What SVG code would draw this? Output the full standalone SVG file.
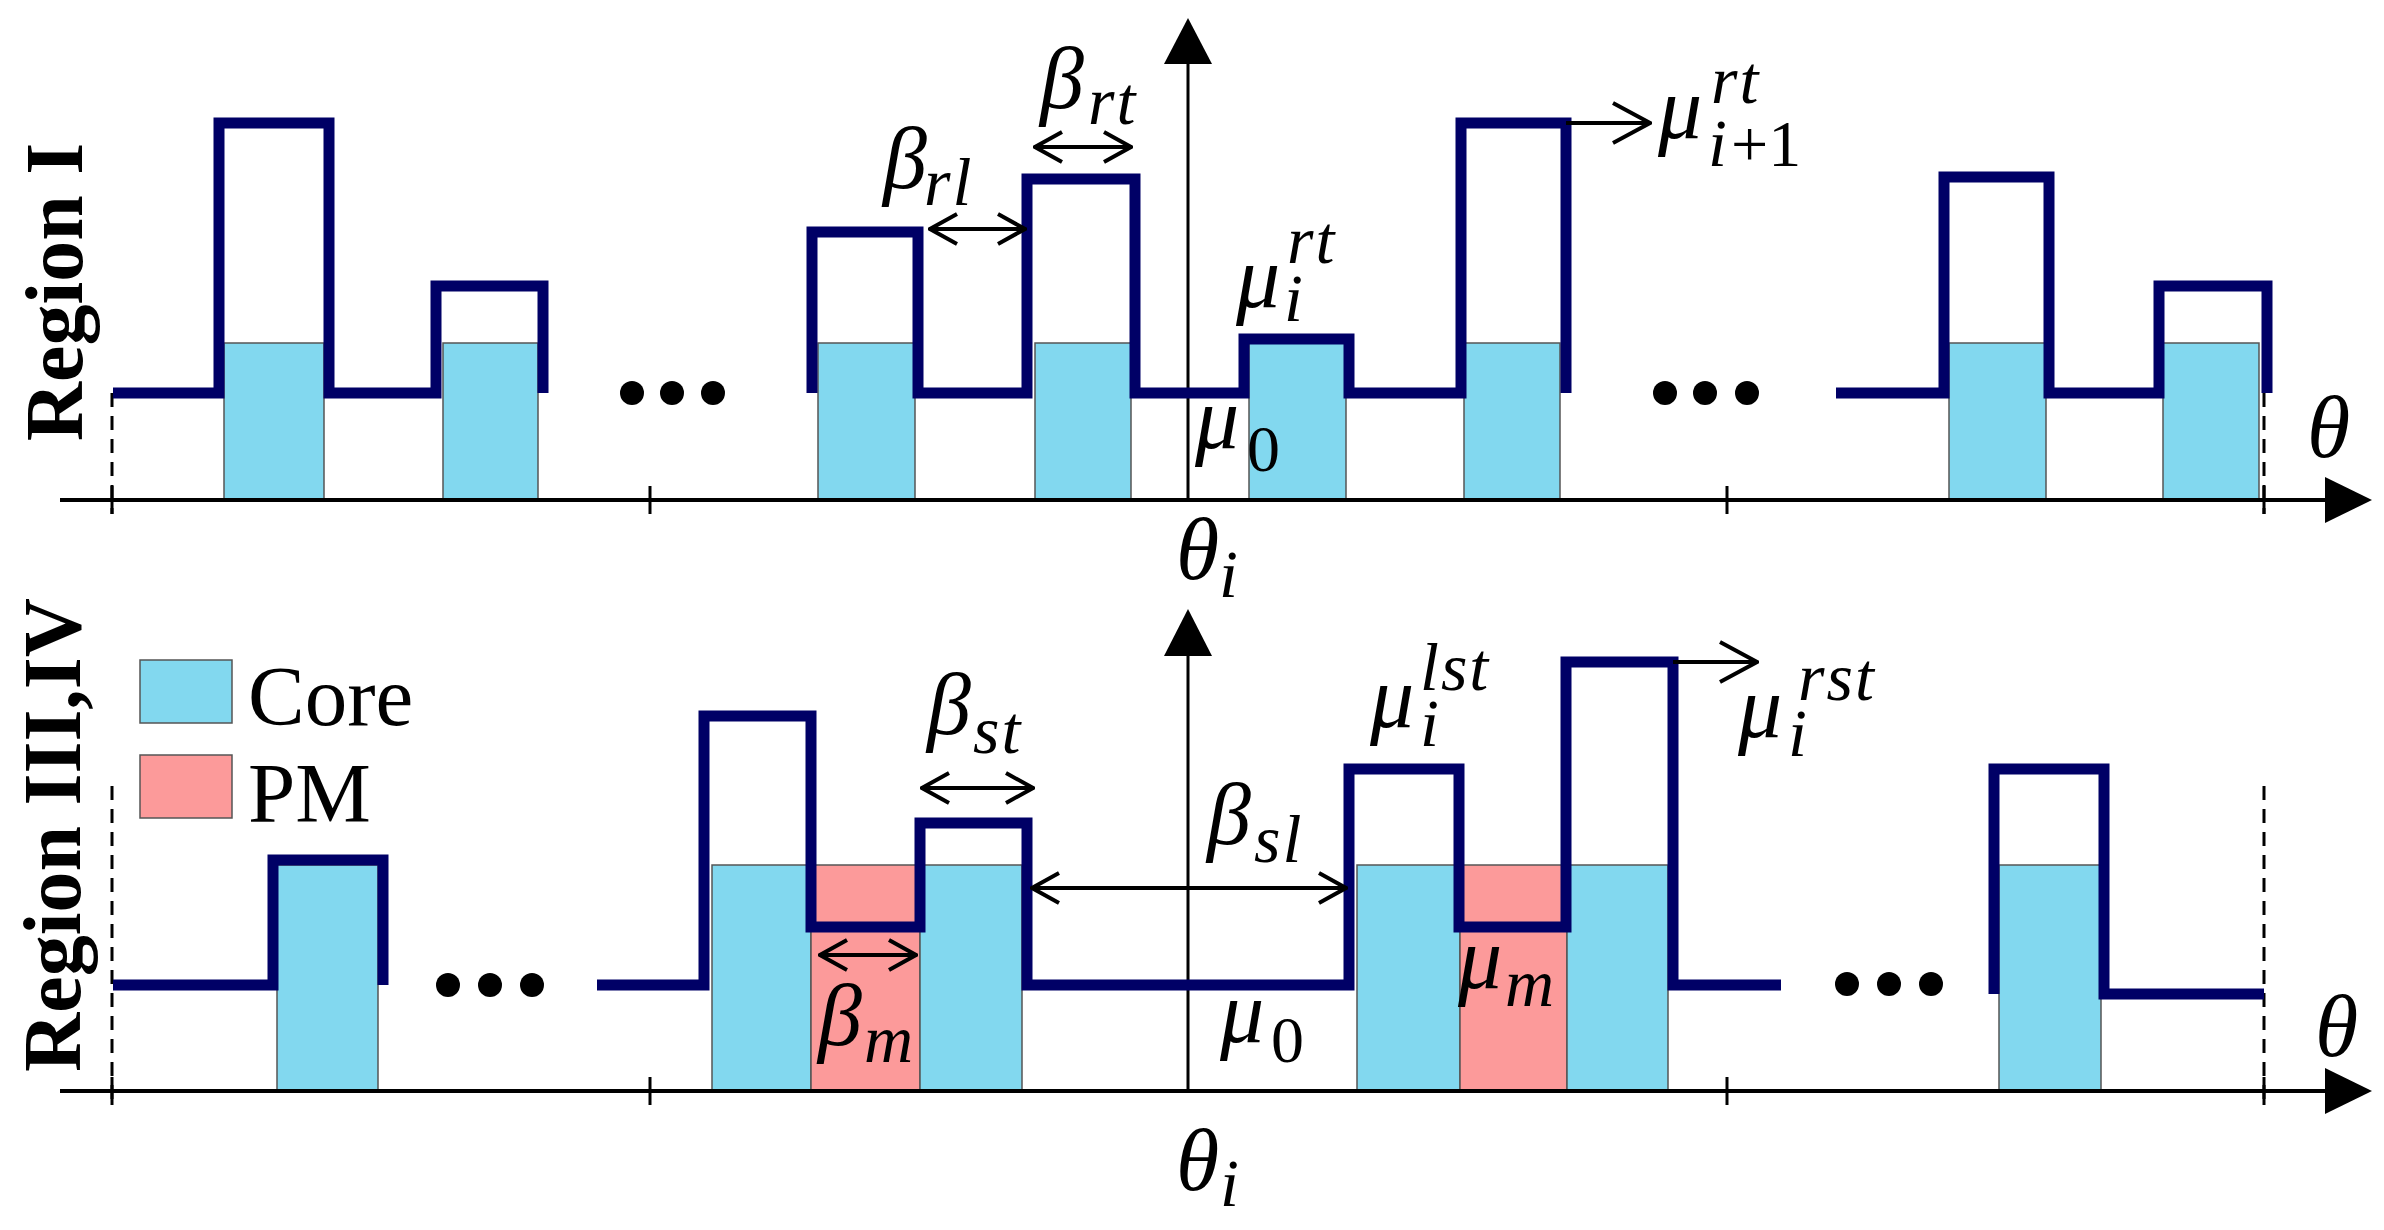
<svg xmlns="http://www.w3.org/2000/svg" width="2384" height="1230" viewBox="0 0 2384 1230">
<defs>
<style>
.wave{fill:none;stroke:#000066;stroke-width:11;stroke-linejoin:miter;stroke-linecap:butt}
.core{fill:#82D8EF;stroke:#555;stroke-width:1.5}
.pm{fill:#FC9A9A;stroke:#555;stroke-width:1.5}
.axis{fill:none;stroke:#000;stroke-width:4}
.vaxis{fill:none;stroke:#000;stroke-width:3}
.tick{stroke:#000;stroke-width:3}
.dash{stroke:#000;stroke-width:3;stroke-dasharray:14 9}
.dim{fill:none;stroke:#000;stroke-width:4}
.lbl{font-family:"Liberation Serif","Times New Roman",serif;font-style:italic;font-size:88px;fill:#000}
.s{font-size:68px;letter-spacing:2px}
.su{font-size:66px;font-style:normal}
.reg{font-family:"Liberation Serif","Times New Roman",serif;font-weight:bold;font-size:82px;fill:#000}
.leg{font-family:"Liberation Serif","Times New Roman",serif;font-size:85px;fill:#000}
.dot{fill:#000}
</style>
<marker id="chev" viewBox="0 0 32 34" refX="30" refY="17" markerWidth="32" markerHeight="34" markerUnits="userSpaceOnUse" orient="auto-start-reverse">
<path d="M3,2 L30,17 L3,32" fill="none" stroke="#000" stroke-width="4"/>
</marker>
<marker id="chevL" viewBox="0 0 42 44" refX="40" refY="22" markerWidth="42" markerHeight="44" markerUnits="userSpaceOnUse" orient="auto">
<path d="M3,2 L40,22 L3,42" fill="none" stroke="#000" stroke-width="4"/>
</marker>
</defs>
<rect width="2384" height="1230" fill="#fff"/>

<!-- ===== Top panel: Region I ===== -->
<g id="top-cores">
<rect class="core" x="224" y="343" width="100" height="157"/>
<rect class="core" x="443" y="343" width="95" height="157"/>
<rect class="core" x="818" y="343" width="97" height="157"/>
<rect class="core" x="1035" y="343" width="96" height="157"/>
<rect class="core" x="1249" y="343" width="97" height="157"/>
<rect class="core" x="1464" y="343" width="96" height="157"/>
<rect class="core" x="1949" y="343" width="97" height="157"/>
<rect class="core" x="2163" y="343" width="96" height="157"/>
</g>

<g id="top-axes">
<line class="dash" x1="112" y1="393" x2="112" y2="514"/>
<line class="dash" x1="2264" y1="393" x2="2264" y2="514"/>
<line class="axis" x1="60" y1="500" x2="2330" y2="500"/>
<polygon points="2372,500 2325,477 2325,523" fill="#000"/>
<line class="tick" x1="112" y1="486" x2="112" y2="514"/>
<line class="tick" x1="650" y1="486" x2="650" y2="514"/>
<line class="tick" x1="1727" y1="486" x2="1727" y2="514"/>
<line class="tick" x1="2264" y1="486" x2="2264" y2="514"/>
<line class="vaxis" x1="1188" y1="500" x2="1188" y2="60"/>
<polygon points="1188,18 1164,64 1212,64" fill="#000"/>
</g>

<g id="top-wave">
<path class="wave" d="M113,393 H219 V123 H329 V393 H436 V286 H543 V393"/>
<path class="wave" d="M812,393 V232 H918 V393 H1027 V179 H1135 V393 H1244 V339 H1349 V393 H1461 V123 H1566 V393"/>
<path class="wave" d="M1836,393 H1944 V177 H2049 V393 H2159 V286 H2267 V393"/>
</g>

<g id="top-dots">
<circle class="dot" cx="632" cy="393" r="12"/><circle class="dot" cx="672" cy="393" r="12"/><circle class="dot" cx="713" cy="393" r="12"/>
<circle class="dot" cx="1665" cy="393" r="12"/><circle class="dot" cx="1705" cy="393" r="12"/><circle class="dot" cx="1747" cy="393" r="12"/>
</g>

<g id="top-connectors">
<line class="dim" x1="930" y1="229" x2="1025" y2="229" marker-start="url(#chev)" marker-end="url(#chev)"/>
<line class="dim" x1="1035" y1="147" x2="1131" y2="147" marker-start="url(#chev)" marker-end="url(#chev)"/>
<line class="dim" x1="1566" y1="123" x2="1650" y2="123" marker-end="url(#chevL)"/>
</g>

<g id="top-labels">
<text class="reg" transform="translate(82,292) rotate(-90)" text-anchor="middle">Region I</text>
<text class="lbl"><tspan x="883" y="188">β</tspan><tspan class="s" x="924" y="205">rl</tspan></text>
<text class="lbl"><tspan x="1040" y="108">β</tspan><tspan class="s" x="1088" y="124">rt</tspan></text>
<text class="lbl"><tspan x="1236" y="307">μ</tspan><tspan class="s" x="1284" y="321">i</tspan><tspan class="s" x="1287" y="263">rt</tspan></text>
<text class="lbl"><tspan x="1658" y="138">μ</tspan><tspan class="s" x="1708" y="166">i</tspan><tspan class="su" dx="2">+1</tspan><tspan class="s" x="1711" y="103">rt</tspan></text>
<text class="lbl"><tspan x="1195" y="448">μ</tspan><tspan class="su" x="1247" y="471">0</tspan></text>
<text class="lbl" x="2307" y="457">θ</text>
<text class="lbl"><tspan x="1176" y="579">θ</tspan><tspan class="s" x="1219" y="597">i</tspan></text>
</g>

<!-- ===== Bottom panel: Region III,IV ===== -->
<g id="legend">
<rect class="core" x="140" y="660" width="92" height="63"/>
<text class="leg" x="248" y="725">Core</text>
<rect class="pm" x="140" y="755" width="92" height="63"/>
<text class="leg" x="248" y="822">PM</text>
</g>

<g id="bottom-cores">
<rect class="core" x="277" y="865" width="101" height="226"/>
<rect class="core" x="712" y="865" width="99" height="226"/>
<rect class="pm" x="811" y="865" width="109" height="226"/>
<rect class="core" x="920" y="865" width="102" height="226"/>
<rect class="core" x="1357" y="865" width="103" height="226"/>
<rect class="pm" x="1460" y="865" width="107" height="226"/>
<rect class="core" x="1567" y="865" width="101" height="226"/>
<rect class="core" x="1999" y="865" width="102" height="226"/>
</g>

<g id="bottom-axes">
<line class="dash" x1="112" y1="786" x2="112" y2="1107"/>
<line class="dash" x1="2264" y1="786" x2="2264" y2="1107"/>
<line class="axis" x1="60" y1="1091" x2="2330" y2="1091"/>
<polygon points="2372,1091 2325,1068 2325,1114" fill="#000"/>
<line class="tick" x1="112" y1="1077" x2="112" y2="1105"/>
<line class="tick" x1="650" y1="1077" x2="650" y2="1105"/>
<line class="tick" x1="1727" y1="1077" x2="1727" y2="1105"/>
<line class="tick" x1="2264" y1="1077" x2="2264" y2="1105"/>
<line class="vaxis" x1="1188" y1="1091" x2="1188" y2="650"/>
<polygon points="1188,609 1164,656 1212,656" fill="#000"/>
</g>

<g id="bottom-wave">
<path class="wave" d="M113,985 H273 V860 H383 V985"/>
<path class="wave" d="M597,985 H704 V716 H811 V927 H920 V823 H1027 V985 H1349 V769 H1459 V927 H1566 V662 H1673 V985 H1781"/>
<path class="wave" d="M1994,994 V769 H2104 V994 H2264"/>
</g>

<g id="bottom-dots">
<circle class="dot" cx="448" cy="985" r="12"/><circle class="dot" cx="490" cy="985" r="12"/><circle class="dot" cx="532" cy="985" r="12"/>
<circle class="dot" cx="1847" cy="984" r="12"/><circle class="dot" cx="1889" cy="984" r="12"/><circle class="dot" cx="1931" cy="984" r="12"/>
</g>

<g id="bottom-connectors">
<line class="dim" x1="922" y1="788" x2="1033" y2="788" marker-start="url(#chev)" marker-end="url(#chev)"/>
<line class="dim" x1="1032" y1="888" x2="1346" y2="888" marker-start="url(#chev)" marker-end="url(#chev)"/>
<line class="dim" x1="820" y1="955" x2="916" y2="955" marker-start="url(#chev)" marker-end="url(#chev)"/>
<line class="dim" x1="1673" y1="662" x2="1757" y2="662" marker-end="url(#chevL)"/>
</g>

<g id="bottom-labels">
<text class="reg" transform="translate(80,835) rotate(-90)" text-anchor="middle">Region III,IV</text>
<text class="lbl"><tspan x="927" y="734">β</tspan><tspan class="s" x="973" y="753">st</tspan></text>
<text class="lbl"><tspan x="1207" y="844">β</tspan><tspan class="s" x="1254" y="862">sl</tspan></text>
<text class="lbl"><tspan x="818" y="1045">β</tspan><tspan class="s" x="864" y="1062">m</tspan></text>
<text class="lbl"><tspan x="1370" y="727">μ</tspan><tspan class="s" x="1420" y="746">i</tspan><tspan class="s" x="1420" y="690">lst</tspan></text>
<text class="lbl"><tspan x="1738" y="737">μ</tspan><tspan class="s" x="1788" y="756">i</tspan><tspan class="s" x="1798" y="700">rst</tspan></text>
<text class="lbl"><tspan x="1458" y="988">μ</tspan><tspan class="s" x="1505" y="1006">m</tspan></text>
<text class="lbl"><tspan x="1220" y="1042">μ</tspan><tspan class="su" x="1271" y="1062">0</tspan></text>
<text class="lbl" x="2315" y="1056">θ</text>
<text class="lbl"><tspan x="1176" y="1190">θ</tspan><tspan class="s" x="1220" y="1206">i</tspan></text>
</g>
</svg>
